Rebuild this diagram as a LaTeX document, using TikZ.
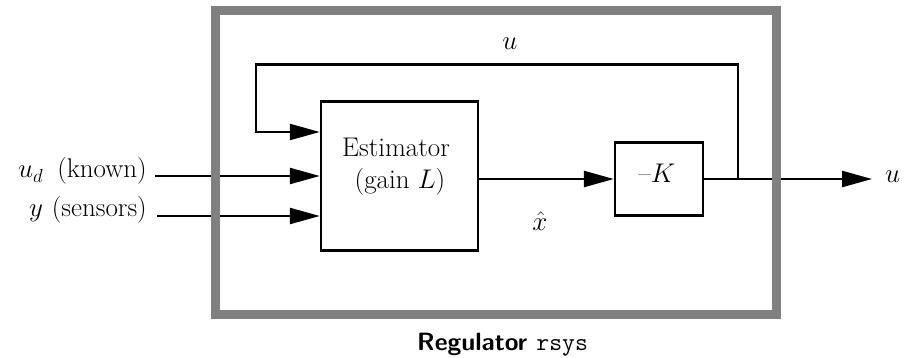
\RequirePackage{fix-cm}
\documentclass[tikz,border=0pt]{standalone}
\usetikzlibrary{arrows.meta}

\begin{document}
\begin{tikzpicture}[x=1pt, y=-1pt,
  every node/.style={font=\fontsize{27}{32}\selectfont, inner sep=0pt},
  wire/.style={line width=2.4pt},
  sig/.style={wire, -{Triangle[length=30pt, width=16pt]}},
  block/.style={draw, line width=2.4pt},
  frame/.style={draw=black!50, line width=9pt}]

\path[use as bounding box] (0,0) rectangle (905,358);

% Blocks
\node[block, minimum width=157pt, minimum height=149pt] (est) at (399.5,176) {};
\node[anchor=base] (esttop) at (396,157) {Estimator};
\node[anchor=base] (estbot) at (400,189) {(gain $L$)};
\node[block, minimum width=88pt, minimum height=73pt] (kgain) at (659,179) {};
\node[anchor=base] (ktext) at (657,183) {--$K$};

% Inputs
\coordinate (udin) at (155,176);
\coordinate (yin) at (157,216);
\node[anchor=base east] (udlab) at (147,178) {$u_d$\hspace{14pt}(known)};
\node[anchor=base east] (ylab) at (147,217) {$y$\hspace{9pt}(sensors)};
\draw[sig] (udin) -- (udin -| est.west);
\draw[sig] (yin) -- (yin -| est.west);

% Estimate to gain
\draw[sig] (est.east |- kgain.west) -- (kgain.west);
\node[anchor=base] (xhat) at (540,231) {$\hat{x}$};

% Output
\coordinate (branch) at (738,179);
\coordinate (outend) at (872,179);
\draw[sig] (kgain.east) -- (outend);
\node[anchor=base west] (uout) at (885,183) {$u$};

% Feedback of u
\coordinate (fbcorner) at (256,64.5);
\coordinate (fbdown) at (256,132);
\draw[sig] (branch) |- (fbcorner) -- (fbdown) -- (fbdown -| est.west);
\node[anchor=base] (ufb) at (510,50) {$u$};

% Regulator frame
\draw[frame] (215.5,11) rectangle (776,314.5);
\node[anchor=base west, font=\fontsize{25}{28}\selectfont] (caption) at (417,350)
  {\sffamily\bfseries Regulator \mdseries\ttfamily rsys};
\end{tikzpicture}
\end{document}
